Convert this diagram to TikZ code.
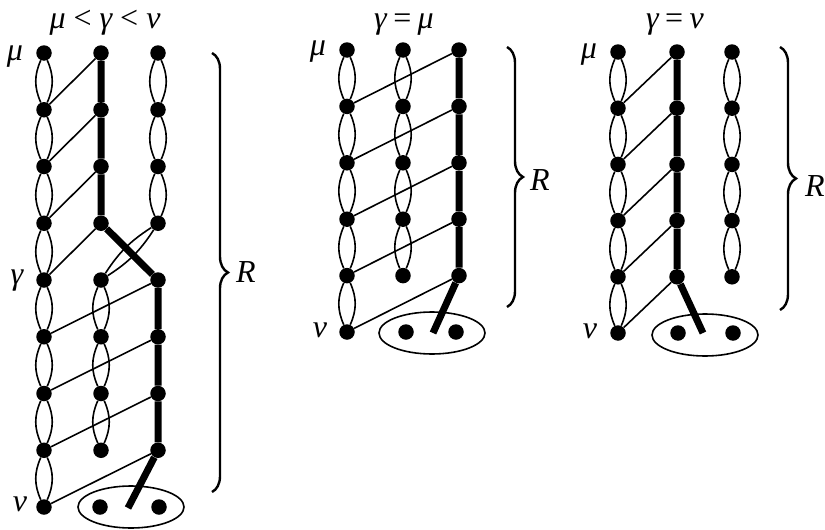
\documentclass[tikz,border=0pt]{standalone}
\usepackage{fontspec}
\setmainfont{Liberation Serif}
\usetikzlibrary{shapes.geometric,decorations.pathreplacing}
\newcommand\lensab[3][24]{\draw[thinl] (#2) to[bend left=#1] (#3) (#2) to[bend right=#1] (#3);}
\begin{document}
\begin{tikzpicture}[x=1pt,y=-1pt,
  dot/.style={circle,fill=black,inner sep=0pt,minimum size=15.5pt},
  thinl/.style={line width=1.6pt},
  thickl/.style={line width=7pt},
  lbl/.style={font=\fontsize{32}{36}\selectfont\itshape,inner sep=0pt},
  oval/.style={ellipse,draw,line width=1.6pt,minimum width=106pt,minimum height=42pt,inner sep=0pt},
  brc/.style={decorate,decoration={brace,amplitude=16pt},line width=2.4pt}]
\useasboundingbox (0,0) rectangle (825,530);
% ---------------- left diagram ----------------
\foreach \k in {0,...,8} \node[dot] (a\k) at (44,{53+56.75*\k}) {};
\foreach \k in {0,...,3} {\node[dot] (b\k) at (101,{53+56.75*\k}) {};
                          \node[dot] (c\k) at (158,{53+56.75*\k}) {};}
\foreach \k in {4,...,7} {\node[dot] (d\k) at (101,{53+56.75*\k}) {};
                          \node[dot] (e\k) at (158,{53+56.75*\k}) {};}
\node[oval] (ovA) at (131,507) {};
\node[dot] (fA1) at (100,507) {};
\node[dot] (fA2) at (159,507) {};
\coordinate (tA) at (128,508);
\foreach \k [count=\n from 1] in {0,...,7} {\lensab{a\k}{a\n}}
\foreach \k [count=\n from 1] in {0,...,2} {\lensab{c\k}{c\n}}
\foreach \k [count=\n from 5] in {4,...,6} {\lensab{d\k}{d\n}}
\lensab[12]{c3}{d4}
\foreach \k [count=\n from 1] in {0,...,3} \draw[thinl] (a\n) -- (b\k);
\foreach \k [count=\n from 5] in {4,...,7} \draw[thinl] (a\n) -- (e\k);
\draw[thickl] (b0) -- (b1) -- (b2) -- (b3) -- (e4) -- (e5) -- (e6) -- (e7) -- (tA);
\coordinate (brA1) at (212,53);
\coordinate (brA2) at (212,492);
\draw[brc] (brA1) -- (brA2);
\node[lbl,anchor=west] (RA) at (236,272) {R};
\node[lbl,anchor=base] (tlA) at (105,28) {μ\hspace{0.25em}\upshape<\hspace{0.25em}\itshape γ\hspace{0.25em}\upshape<\hspace{0.25em}\itshape ν};
\node[lbl] (muA) at (15,57) {μ};
\node[lbl] (gaA) at (17,281) {γ};
\node[lbl] (nuA) at (20,504) {ν};
% ---------------- middle diagram ----------------
\foreach \k in {0,...,5} \node[dot] (g\k) at (347,{50+56.4*\k}) {};
\foreach \k in {0,...,4} {\node[dot] (h\k) at (403,{50+56.4*\k}) {};
                          \node[dot] (i\k) at (459,{50+56.4*\k}) {};}
\node[oval] (ovB) at (432,333) {};
\node[dot] (fB1) at (406,332) {};
\node[dot] (fB2) at (456,332) {};
\coordinate (tB) at (433,333);
\foreach \k [count=\n from 1] in {0,...,4} {\lensab{g\k}{g\n}}
\foreach \k [count=\n from 1] in {0,...,3} {\lensab{h\k}{h\n}}
\foreach \k [count=\n from 1] in {0,...,4} \draw[thinl] (g\n) -- (i\k);
\draw[thickl] (i0) -- (i1) -- (i2) -- (i3) -- (i4) -- (tB);
\coordinate (brB1) at (507,47);
\coordinate (brB2) at (507,307);
\draw[brc] (brB1) -- (brB2);
\node[lbl,anchor=west] (RB) at (530,180) {R};
\node[lbl,anchor=base] (tlB) at (404,28) {γ\hspace{0.2em}\upshape=\hspace{0.2em}\itshape μ};
\node[lbl] (muB) at (318,52) {μ};
\node[lbl] (nuB) at (320,330) {ν};
% ---------------- right diagram ----------------
\foreach \k in {0,...,5} \node[dot] (p\k) at (618,{52+56.2*\k}) {};
\foreach \k in {0,...,4} {\node[dot] (q\k) at (677,{52+56.2*\k}) {};
                          \node[dot] (r\k) at (732,{52+56.2*\k}) {};}
\node[oval] (ovC) at (705,335) {};
\node[dot] (fC1) at (678,333) {};
\node[dot] (fC2) at (733,333) {};
\coordinate (tC) at (703,333);
\foreach \k [count=\n from 1] in {0,...,4} {\lensab{p\k}{p\n}}
\foreach \k [count=\n from 1] in {0,...,3} {\lensab{r\k}{r\n}}
\foreach \k [count=\n from 1] in {0,...,4} \draw[thinl] (p\n) -- (q\k);
\draw[thickl] (q0) -- (q1) -- (q2) -- (q3) -- (q4) -- (tC);
\coordinate (brC1) at (780,47);
\coordinate (brC2) at (780,310);
\draw[brc] (brC1) -- (brC2);
\node[lbl,anchor=west] (RC) at (805,186) {R};
\node[lbl,anchor=base] (tlC) at (675,28) {γ\hspace{0.2em}\upshape=\hspace{0.2em}\itshape ν};
\node[lbl] (muC) at (589,55) {μ};
\node[lbl] (nuC) at (590,331) {ν};
\end{tikzpicture}
\end{document}
